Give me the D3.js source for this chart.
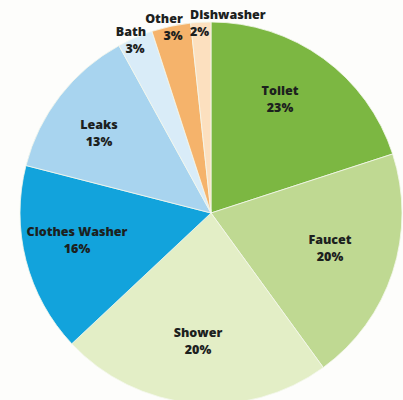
<!DOCTYPE html>
<html>
<head>
<meta charset="utf-8">
<script src="https://cdn.jsdelivr.net/npm/d3@7"></script>
<style>
  html, body { margin: 0; padding: 0; background: #fdfdfb; }
  svg { display: block; }
  .lbl { font-family: "Open Sans", Lato, sans-serif; font-weight: 800; font-size: 12.5px; fill: #1c211e; }
</style>
</head>
<body>
<div id="chart"></div>
<script>
// categories, clockwise from 12 o'clock
const categories = ['Toilet', 'Faucet', 'Shower', 'Clothes Washer', 'Leaks', 'Bath', 'Other', 'Dishwasher'];
// slice sizes as drawn in the picture (percent of the circle)
const shares = [20, 20, 23, 16, 13, 3, 3.3, 1.7];
// percentages printed on the slices
const pctLabels = ['23%', '20%', '20%', '16%', '13%', '3%', '3%', '2%'];
const colors = ['#7cb742', '#bfd992', '#e3eec6', '#12a3dc', '#a8d4ef', '#d9ecf8', '#f5b36b', '#fce0bf'];

const width = 403, height = 400;
const cx = 211, cy = 213, r = 191;

const svg = d3.select('#chart')
    .append('svg')
    .attr('width', width)
    .attr('height', height);

const data = categories.map((c, i) => ({ name: c, share: shares[i], pct: pctLabels[i], color: colors[i] }));

const pie = d3.pie()
    .sort(null)
    .value(d => d.share);

const arc = d3.arc()
    .innerRadius(0)
    .outerRadius(r);

const arcs = pie(data);

const g = svg.append('g')
    .attr('transform', `translate(${cx},${cy})`);

g.selectAll('path.slice')
    .data(arcs)
    .enter()
    .append('path')
    .attr('class', 'slice')
    .attr('d', arc)
    .attr('fill', d => d.data.color)
    .attr('stroke', '#f4f8ec')
    .attr('stroke-width', 0.8);

// label placement: [x, y, anchor] in page coords for the two lines
const labelPos = {
    'Toilet': [280, 91, 'middle'],
    'Faucet': [330, 240, 'middle'],
    'Shower': [198, 333, 'middle'],
    'Clothes Washer': [77, 232, 'middle'],
    'Leaks': [99, 125, 'middle'],
    'Bath': [131, 32, 'middle'],
    'Other': [164, 19, 'middle'],
    'Dishwasher': [190, 15, 'start']
};
const pctPos = {
    'Toilet': [280, 108, 'middle'],
    'Faucet': [330, 257, 'middle'],
    'Shower': [198, 350, 'middle'],
    'Clothes Washer': [77, 249, 'middle'],
    'Leaks': [99, 142, 'middle'],
    'Bath': [135, 49, 'middle'],
    'Other': [173, 36, 'middle'],
    'Dishwasher': [190, 32, 'start']
};

const labels = svg.append('g');
data.forEach(d => {
    const p = labelPos[d.name], q = pctPos[d.name];
    labels.append('text')
        .attr('class', 'lbl')
        .attr('x', p[0]).attr('y', p[1])
        .attr('dy', '0.35em')
        .attr('text-anchor', p[2])
        .text(d.name);
    labels.append('text')
        .attr('class', 'lbl')
        .attr('x', q[0]).attr('y', q[1])
        .attr('dy', '0.35em')
        .attr('text-anchor', q[2])
        .text(d.pct);
});
</script>
</body>
</html>
